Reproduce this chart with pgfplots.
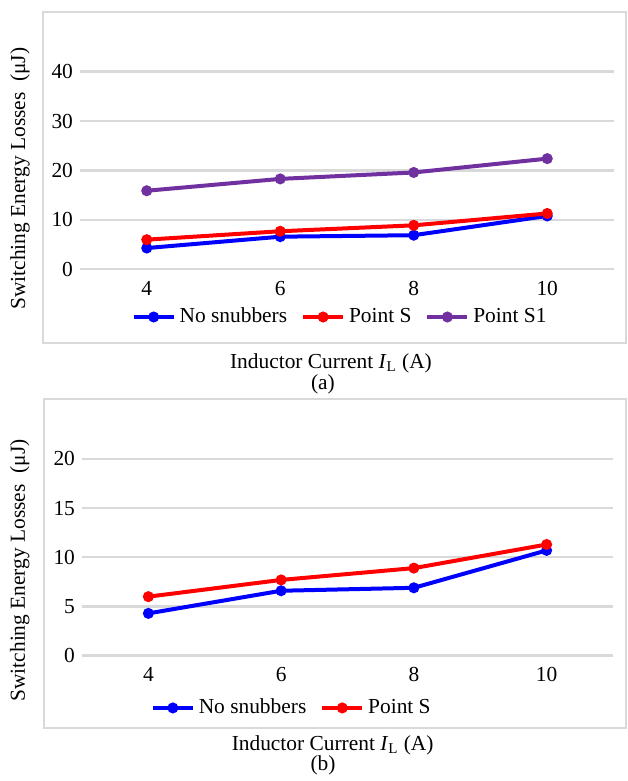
\documentclass[border=0pt]{standalone}
\usepackage{fontspec}
\setmainfont{Liberation Serif}
\usepackage{pgfplots}
\pgfplotsset{compat=1.18}
\definecolor{gridgray}{RGB}{217,217,217}
\definecolor{xlblue}{RGB}{0,0,255}
\definecolor{xlred}{RGB}{255,0,0}
\definecolor{xlpurple}{RGB}{112,48,160}
\pgfplotsset{
  myax/.style={
    scale only axis,
    font=\fontsize{10.7}{12.8}\selectfont,
    /pgf/number format/assume math mode=true,
    axis line style={draw=none},
    major tick length=0pt,
    ymajorgrids,
    grid style={gridgray, line width=1.2pt},
    xmin=3, xmax=11,
    xtick={4,6,8,10},
    xticklabel style={yshift=-2.3pt},
    clip=false,
    legend style={draw=none, fill=none, font=\fontsize{10.7}{12.8}\selectfont,
      legend columns=-1, anchor=center,
      /tikz/every even column/.append style={column sep=5pt}},
    legend image code/.code={
      \draw[mark repeat=2,mark phase=2] plot coordinates {(0cm,0cm) (0.35cm,0cm) (0.7cm,0cm)};
    },
  },
  myline/.style={line width=2pt, mark=*, mark size=1.7pt, mark options={solid}},
}
\begin{document}
\begin{tikzpicture}
\useasboundingbox (0,0) rectangle (313.5pt,390.5pt);
\draw[gridgray, line width=0.6pt] (21.5pt,219pt) rectangle (313pt,384.5pt);
\draw[gridgray, line width=0.6pt] (22pt,26.5pt) rectangle (313pt,191pt);

% Panel (a)
\begin{axis}[myax,
  at={(40pt,255.85pt)}, anchor=south west,
  width=267pt, height=111.15pt,
  ymin=0, ymax=45, ytick={0,10,20,30,40},
  ylabel={Switching Energy Losses\ \ (μJ)},
  ylabel style={at={(axis description cs:-0.1124,0.408)}, anchor=center},
  xlabel={Inductor Current \textit{I}\textsubscript{L} (A)},
  xlabel style={at={(axis description cs:0.470,-0.4215)}, anchor=center, inner sep=0pt},
  legend style={at={(axis description cs:0.489,-0.2146)}},
]
\addplot[myline, xlblue] coordinates {(4,4.3) (6,6.6) (8,6.9) (10,10.8)};
\addlegendentry{No snubbers}
\addplot[myline, xlred] coordinates {(4,6.0) (6,7.7) (8,8.9) (10,11.3)};
\addlegendentry{Point S}
\addplot[myline, xlpurple] coordinates {(4,15.9) (6,18.3) (8,19.6) (10,22.4)};
\addlegendentry{Point S1}
\node[font=\fontsize{10.7}{12.8}\selectfont, inner sep=0pt] at (axis description cs:0.455,-0.516) {(a)};
\end{axis}

% Panel (b)
\begin{axis}[myax,
  at={(41pt,62.65pt)}, anchor=south west,
  width=265.5pt, height=110.7pt,
  ymin=0, ymax=22.5, ytick={0,5,10,15,20},
  ylabel={Switching Energy Losses\ \ (μJ)},
  ylabel style={at={(axis description cs:-0.117,0.385)}, anchor=center},
  xlabel={Inductor Current \textit{I}\textsubscript{L} (A)},
  xlabel style={at={(axis description cs:0.472,-0.403)}, anchor=center, inner sep=0pt},
  legend style={at={(axis description cs:0.397,-0.236)}},
]
\addplot[myline, xlblue] coordinates {(4,4.3) (6,6.6) (8,6.9) (10,10.7)};
\addlegendentry{No snubbers}
\addplot[myline, xlred] coordinates {(4,6.0) (6,7.7) (8,8.9) (10,11.3)};
\addlegendentry{Point S}
\node[font=\fontsize{10.7}{12.8}\selectfont, inner sep=0pt] at (axis description cs:0.454,-0.497) {(b)};
\end{axis}
\end{tikzpicture}
\end{document}
